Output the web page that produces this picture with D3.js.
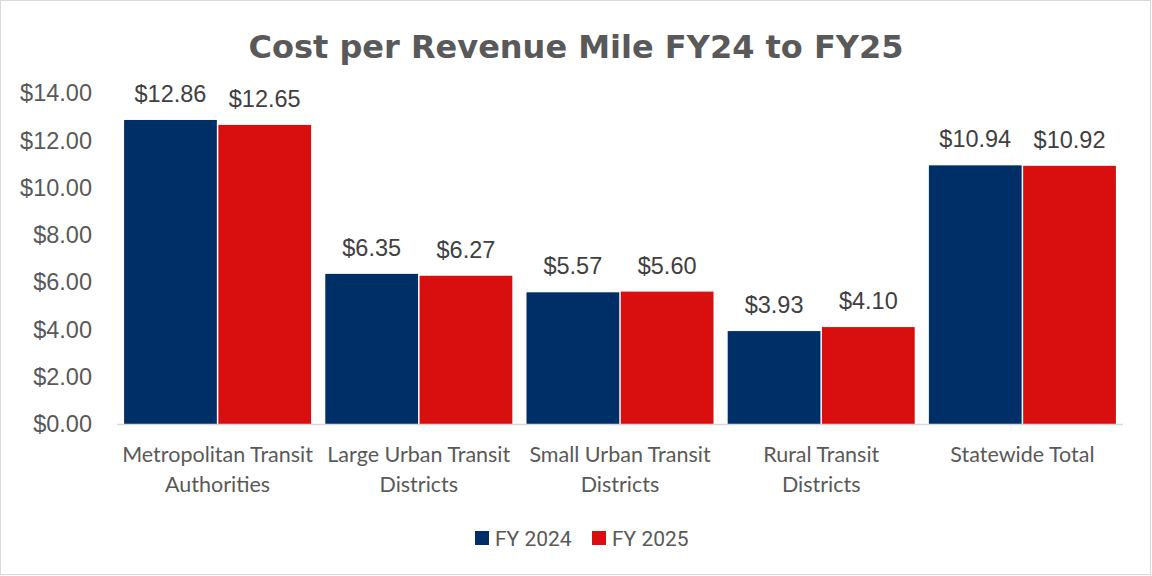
<!DOCTYPE html>
<html><head><meta charset="utf-8">
<script src="https://cdn.jsdelivr.net/npm/d3@7"></script>
<style>html,body{margin:0;padding:0;background:#fff;}</style>
</head><body>
<svg id="c" width="1152" height="576"></svg>
<script>
const categories = [["Metropolitan Transit","Authorities"],["Large Urban Transit","Districts"],["Small Urban Transit","Districts"],["Rural Transit","Districts"],["Statewide Total"]];
const seriesNames = ["FY 2024","FY 2025"];
const fy2024 = [12.86, 6.35, 5.57, 3.93, 10.94];
const fy2025 = [12.65, 6.27, 5.60, 4.10, 10.92];
const yTicks = [0,2,4,6,8,10,12,14];
const colors = ["#002F67","#D90F0F"];
const title = "Cost per Revenue Mile FY24 to FY25";

const svg = d3.select("#c");
svg.append("rect").attr("x",0.5).attr("y",0.5).attr("width",1150).attr("height",574)
  .attr("fill","#fff").attr("stroke","#d9d9d9").attr("stroke-width",1);

const x0 = d3.scaleBand().domain(d3.range(categories.length)).range([117,1123]).paddingInner(0.063).paddingOuter(0.0315);
const x1 = d3.scaleBand().domain([0,1]).range([0,x0.bandwidth()]).padding(0);
const y = d3.scaleLinear().domain([0,14]).range([424,93]);

svg.append("text").attr("x",576).attr("y",58).attr("text-anchor","middle")
  .attr("font-family","DejaVu Sans").attr("font-weight","bold").attr("font-size",32)
  .attr("fill","#595959").text(title);

// y tick labels
svg.append("g").selectAll("text").data(yTicks).join("text")
  .attr("x",92).attr("y",d=>y(d)).attr("dy","0.35em").attr("text-anchor","end")
  .attr("font-family","Liberation Sans, Arial").attr("font-size",23.5).attr("fill","#595959")
  .text(d=>d3.format("$.2f")(d));

const series = [fy2024, fy2025];
const g = svg.append("g");
series.forEach((vals,si)=>{
  g.selectAll(null).data(vals).join("rect")
    .attr("x",(d,i)=>x0(i)+x1(si)+0.75).attr("width",x1.bandwidth()-1.5)
    .attr("y",d=>y(d)).attr("height",d=>y(0)-y(d))
    .attr("fill",colors[si]);
  g.selectAll(null).data(vals).join("text")
    .attr("x",(d,i)=>x0(i)+x1(si)+x1.bandwidth()/2).attr("y",d=>y(d)-18)
    .attr("text-anchor","middle")
    .attr("font-family","Liberation Sans, Arial").attr("font-size",23.5).attr("fill","#404040")
    .text(d=>d3.format("$.2f")(d));
});

svg.append("line").attr("x1",117).attr("x2",1123).attr("y1",424.5).attr("y2",424.5)
  .attr("stroke","#d9d9d9").attr("stroke-width",1.5);

// category labels
const cl = svg.append("g");
categories.forEach((lines,i)=>{
  const t = cl.append("text").attr("x",x0(i)+x0.bandwidth()/2).attr("text-anchor","middle")
    .attr("font-family","Lato, Open Sans").attr("font-size",21.5).attr("fill","#595959");
  lines.forEach((ln,j)=>t.append("tspan").attr("x",x0(i)+x0.bandwidth()/2).attr("y",462+j*30).text(ln));
});

// legend
const leg = [{x:475},{x:592}];
seriesNames.forEach((n,i)=>{
  svg.append("rect").attr("x",leg[i].x).attr("y",531).attr("width",14).attr("height",14).attr("fill",colors[i]);
  svg.append("text").attr("x",leg[i].x+20).attr("y",545.5).attr("font-family","Roboto").attr("font-size",21)
    .attr("fill","#595959").text(n);
});
</script>
</body></html>
